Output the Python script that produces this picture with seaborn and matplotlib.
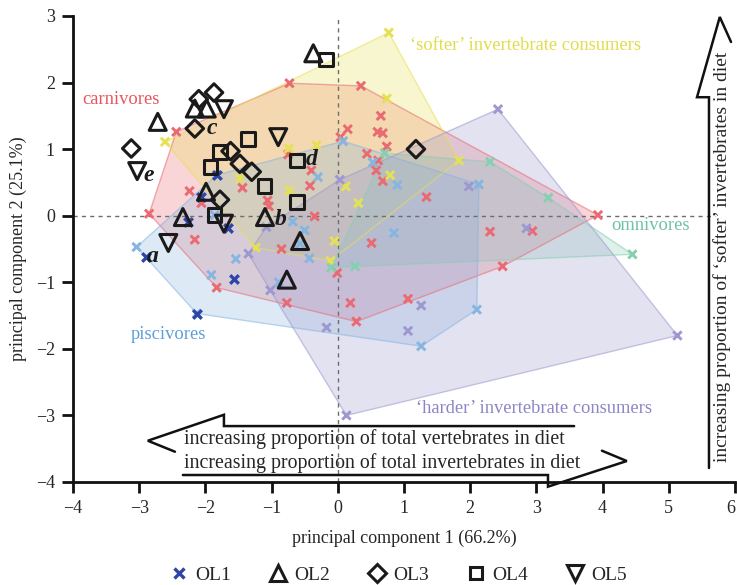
import numpy as np
import pandas as pd
import matplotlib
matplotlib.use("Agg")
import matplotlib.pyplot as plt
import seaborn as sns
from matplotlib.lines import Line2D

# ---- principal component scores of extant species, by dietary group ----
carn_pc1 = [-2.85, -2.44, -0.73, 0.35, 3.93, 2.49, 0.28, -1.83, -2.24, -2.06,
            -1.44, -1.06, -1.04, -0.75, -0.40, -0.42, -0.35, 0.04, 0.15, -2.16,
            -0.85, 0.65, 0.60, 0.68, 0.74, 0.44, 0.61, 0.58, 0.68, 1.34,
            2.30, 2.94, 0.51, -0.01, -0.77, 0.19, 1.06]
carn_pc2 = [0.03, 1.26, 1.99, 1.95, 0.01, -0.76, -1.59, -1.08, 0.37, 0.19,
            0.42, 0.23, 0.14, 0.92, 0.68, 0.45, -0.01, 1.18, 1.30, -0.36,
            -0.50, 1.50, 1.26, 1.24, 1.04, 0.93, 0.83, 0.68, 0.52, 0.28,
            -0.24, -0.23, -0.41, -0.86, -1.31, -1.31, -1.25]

soft_pc1 = [-2.61, 0.77, 1.83, -0.11, -1.24, -0.05, -1.48, -0.74, -0.32, -0.73,
            0.74, 0.79, 0.12, 0.31]
soft_pc2 = [1.11, 2.75, 0.83, -0.68, -0.48, -0.38, 0.56, 1.01, 1.06, 0.38,
            1.76, 0.61, 0.44, 0.19]

omni_pc1 = [0.71, 2.30, 3.18, 4.45, 0.26, -0.10]
omni_pc2 = [0.94, 0.81, 0.27, -0.58, -0.76, -0.78]

pisc_pc1 = [-3.04, -2.13, -1.83, 0.08, 2.13, 2.10, 1.26, -1.54, -1.91, -0.89,
            -0.68, -0.50, -0.57, -0.43, 0.85, -1.86, 0.53, 0.90, -0.30]
pisc_pc2 = [-0.47, -1.47, 0.61, 1.12, 0.47, -1.41, -1.96, -0.65, -0.89, -1.00,
            -0.09, -0.22, -0.42, -0.64, -0.26, 0.01, 0.80, 0.46, 0.58]

hard_pc1 = [2.42, 5.13, 0.13, -1.35, -1.08, 0.03, 1.98, 2.85, 1.26, 1.06,
            -0.17, -1.02]
hard_pc2 = [1.60, -1.80, -3.00, -0.57, -0.17, 0.54, 0.44, -0.19, -1.35, -1.73,
            -1.68, -1.12]

# ---- fossil specimens projected onto the same axes ----
ol1_pc1 = [-2.90, -2.13, -1.57, -2.26, -1.66, -1.82, -2.06]
ol1_pc2 = [-0.62, -1.47, -0.95, -0.09, -0.19, 0.61, 0.28]
ol2_pc1 = [-0.37, -2.72, -2.16, -1.98, -1.99, -2.34, -1.10, -0.57, -0.77]
ol2_pc2 = [2.44, 1.41, 1.61, 1.61, 0.36, -0.02, -0.02, -0.38, -0.96]
ol3_pc1 = [-1.87, -2.10, -2.16, -3.12, -1.62, -1.48, -1.30, -1.78, 1.18]
ol3_pc2 = [1.85, 1.75, 1.31, 1.01, 0.97, 0.78, 0.66, 0.24, 1.00]
ol4_pc1 = [-0.18, -1.36, -1.78, -1.92, -0.62, -1.11, -0.62, -1.86]
ol4_pc2 = [2.35, 1.15, 0.96, 0.73, 0.83, 0.45, 0.21, 0.01]
ol5_pc1 = [-1.72, -0.90, -3.03, -1.72, -2.56]
ol5_pc2 = [1.60, 1.18, 0.67, -0.12, -0.41]

# labelled specimens
spec_labels = ["a", "b", "c", "d", "e"]
spec_pc1 = [-2.79, -0.87, -1.90, -0.39, -2.86]
spec_pc2 = [-0.62, -0.06, 1.31, 0.84, 0.60]

groups = ["carnivores", "'softer' invertebrate consumers", "omnivores",
          "piscivores", "'harder' invertebrate consumers"]
group_text = ["carnivores", "\u2018softer\u2019 invertebrate consumers", "omnivores",
              "piscivores", "\u2018harder\u2019 invertebrate consumers"]
palette = {groups[0]: "#ea6a72", groups[1]: "#e6e055", groups[2]: "#86cfb0",
           groups[3]: "#86b5e0", groups[4]: "#9d98cf"}
label_colors = ["#e8555f", "#e3dc4c", "#6fc3a2", "#5d9fd9", "#8c86c6"]
label_pos = [(-3.27, 1.74), (2.83, 2.56), (4.72, -0.14), (-2.56, -1.79), (2.96, -2.89)]

xs = [carn_pc1, soft_pc1, omni_pc1, pisc_pc1, hard_pc1]
ys = [carn_pc2, soft_pc2, omni_pc2, pisc_pc2, hard_pc2]
df = pd.concat([pd.DataFrame({"pc1": x, "pc2": y, "group": g})
                for g, x, y in zip(groups, xs, ys)], ignore_index=True)


def convex_hull(points):
    pts = sorted(set(map(tuple, points)))
    if len(pts) < 3:
        return pts

    def cross(o, a, b):
        return (a[0] - o[0]) * (b[1] - o[1]) - (a[1] - o[1]) * (b[0] - o[0])

    lower, upper = [], []
    for p in pts:
        while len(lower) >= 2 and cross(lower[-2], lower[-1], p) <= 0:
            lower.pop()
        lower.append(p)
    for p in reversed(pts):
        while len(upper) >= 2 and cross(upper[-2], upper[-1], p) <= 0:
            upper.pop()
        upper.append(p)
    return lower[:-1] + upper[:-1]


sns.set_theme(style="ticks")
plt.rcParams["font.family"] = ["Liberation Serif", "DejaVu Serif"]
plt.rcParams["axes.unicode_minus"] = True

fig = plt.figure(figsize=(7.37, 5.85), dpi=100)
ax = fig.add_axes([73 / 737, 1 - 482 / 585, (735 - 73) / 737, (482 - 16) / 585])

# convex hulls of each dietary group
for g in groups:
    sub = df[df.group == g]
    hull = np.array(convex_hull(sub[["pc1", "pc2"]].values))
    ax.fill(hull[:, 0], hull[:, 1], facecolor=palette[g], alpha=0.28,
            edgecolor="none", zorder=1)
    closed = np.vstack([hull, hull[:1]])
    ax.plot(closed[:, 0], closed[:, 1], color=palette[g], lw=1.0, alpha=0.55, zorder=1.5)

# reference lines through the origin
ax.axhline(0, xmax=0.97, color="#6e6e6e", lw=1.0, ls=(0, (3, 3)), zorder=2)
ax.axvline(0, color="#6e6e6e", lw=1.0, ls=(0, (3, 3)), zorder=2)

sns.scatterplot(data=df, x="pc1", y="pc2", hue="group", palette=palette,
                marker="x", s=36, linewidth=2.1, legend=False, ax=ax, zorder=3)

# fossil specimens
sns.scatterplot(x=ol1_pc1, y=ol1_pc2, marker="x", s=38, linewidth=2.4,
                color="#2e45a6", legend=False, ax=ax, zorder=4)
open_sets = [(ol2_pc1, ol2_pc2, "^"), (ol3_pc1, ol3_pc2, "D"),
             (ol4_pc1, ol4_pc2, "s"), (ol5_pc1, ol5_pc2, "v")]
sizes = {"^": 150, "D": 80, "s": 95, "v": 150}
for px, py, m in open_sets:
    sns.scatterplot(x=px, y=py, marker=m, s=sizes[m], legend=False, ax=ax, zorder=5)
    coll = ax.collections[-1]
    coll.set_facecolor("none")
    coll.set_edgecolor("#1a1a1a")
    coll.set_linewidth(2.2)

for t, x, y in zip(spec_labels, spec_pc1, spec_pc2):
    ax.text(x, y, t, fontsize=17, style="italic", fontweight="bold",
            color="#1a1a1a", ha="center", va="center", zorder=6)

for t, c, (x, y) in zip(group_text, label_colors, label_pos):
    ax.text(x, y, t, fontsize=13.3, color=c, ha="center", va="center", zorder=6)

# axes styling
ax.set_xlim(-4, 6)
ax.set_ylim(-4, 3)
ax.set_xticks(range(-4, 7))
ax.set_yticks(range(-4, 4))
ax.set_xlabel("principal component 1 (66.2%)", fontsize=13, labelpad=9)
ax.set_ylabel("principal component 2 (25.1%)", fontsize=13, labelpad=6)
ax.tick_params(direction="out", length=8, width=2.0, labelsize=13, pad=5, color="#111")
sns.despine(ax=ax)
for s in ("left", "bottom"):
    ax.spines[s].set_linewidth(2.0)
    ax.spines[s].set_color("#111")
# keep the last x tick label inside the canvas
ax.get_xticklabels()[-1].set_horizontalalignment("right")
ax.get_xticklabels()[-1].set_x(6.04)

# interpretive arrows
akw = dict(color="#111", lw=1.8, clip_on=False, zorder=7, solid_joinstyle="miter")
ax.plot([3.57, -1.72, -1.72, -2.87, -2.46], [-3.16, -3.16, -2.99, -3.38, -3.545], **akw)
ax.plot([-2.34, 3.175, 3.175, 4.365, 3.99], [-3.895, -3.895, -4.07, -3.685, -3.53], **akw)
ax.plot([5.607, 5.607, 5.426, 5.77, 5.94], [-3.79, 1.78, 1.78, 2.985, 2.61], **akw)
ax.text(-2.33, -3.355, "increasing proportion of total vertebrates in diet",
        fontsize=14.3, ha="left", va="center", zorder=7)
ax.text(-2.33, -3.71, "increasing proportion of total invertebrates in diet",
        fontsize=14.3, ha="left", va="center", zorder=7)
ax.text(5.80, -0.62, "increasing proportion of \u2018softer\u2019 invertebrates in diet",
        fontsize=14, rotation=90, ha="center", va="center", zorder=7)

handles = [
    Line2D([], [], ls="none", marker="x", ms=7, mew=2.4, color="#2e45a6"),
    Line2D([], [], ls="none", marker="^", ms=12, mew=2.2, mfc="none", mec="#1a1a1a"),
    Line2D([], [], ls="none", marker="D", ms=9, mew=2.2, mfc="none", mec="#1a1a1a"),
    Line2D([], [], ls="none", marker="s", ms=9, mew=2.2, mfc="none", mec="#1a1a1a"),
    Line2D([], [], ls="none", marker="v", ms=12, mew=2.2, mfc="none", mec="#1a1a1a"),
]
fig.legend(handles, ["OL1", "OL2", "OL3", "OL4", "OL5"], loc="center",
           bbox_to_anchor=(398 / 737, 1 - 575 / 585), ncol=5, frameon=False,
           fontsize=14, handlelength=1.0, handletextpad=0.3, columnspacing=1.95,
           borderaxespad=0)

fig.savefig("out.png", dpi=100)
